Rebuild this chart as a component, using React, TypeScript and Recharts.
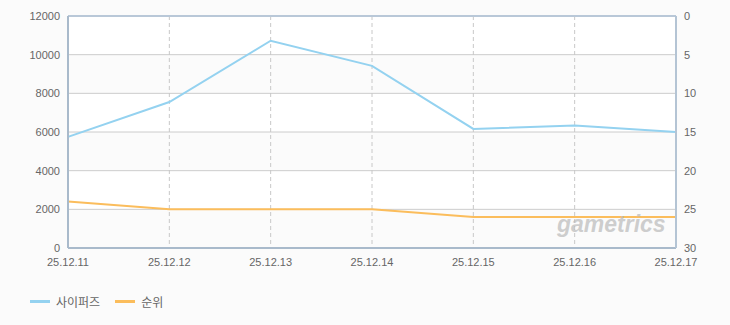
import React from 'react';
import { LineChart, Line, XAxis, YAxis, CartesianGrid, ReferenceLine } from 'recharts';

const categories = ['25.12.11', '25.12.12', '25.12.13', '25.12.14', '25.12.15', '25.12.16', '25.12.17'];
const playValues = [5750, 7550, 10720, 9420, 6160, 6340, 6000];
const rankValues = [24, 25, 25, 25, 26, 26, 26];
const leftTicks = [0, 2000, 4000, 6000, 8000, 10000, 12000];
const rightTicks = [0, 5, 10, 15, 20, 25, 30];
const seriesNames = ['사이퍼즈', '순위'];
const seriesColors = ['#94d2f0', '#fbbd5c'];

const data = categories.map((c, i) => ({ name: c, play: playValues[i], rank: rankValues[i] }));

const font = '"Liberation Sans", "Noto Sans CJK KR", sans-serif';
const tickStyle = { fontSize: 11, fill: '#666', fontFamily: font };

if (typeof document !== 'undefined') {
  document.body.style.margin = '0';
  document.body.style.background = '#fbfbfb';
}

export default function App() {
  return (
    <div style={{ width: 730, height: 325, background: '#fbfbfb', position: 'relative', fontFamily: font }}>
      <LineChart width={730} height={325} data={data} margin={{ top: 16, right: 9, left: 8, bottom: 47 }}>
        <CartesianGrid
          yAxisId="left"
          stroke="#cccccc"
          vertical={false}
          horizontalFill={['#ffffff', '#fbfbfb']}
        />
        <CartesianGrid yAxisId="left" stroke="#c8c8c8" strokeDasharray="4 3" horizontal={false} />
        <XAxis
          dataKey="name"
          interval={0}
          tick={tickStyle}
          tickLine={false}
          axisLine={{ stroke: '#a9bacb', strokeWidth: 2 }}
          tickMargin={4}
          height={30}
          padding={{ left: 0, right: 0 }}
        />
        <YAxis
          yAxisId="left"
          orientation="left"
          domain={[0, 12000]}
          ticks={leftTicks}
          tick={tickStyle}
          tickLine={false}
          axisLine={{ stroke: '#a9bacb', strokeWidth: 2 }}
          width={60}
          tickMargin={2}
        />
        <YAxis
          yAxisId="right"
          orientation="right"
          domain={[0, 30]}
          reversed
          ticks={rightTicks}
          tick={tickStyle}
          tickLine={false}
          axisLine={{ stroke: '#b4c4d4', strokeWidth: 2 }}
          width={45}
          tickMargin={2}
        />
        <ReferenceLine yAxisId="left" y={12000} stroke="#b9c8d8" strokeWidth={2} />
        <Line
          yAxisId="left"
          type="linear"
          dataKey="play"
          name={seriesNames[0]}
          stroke={seriesColors[0]}
          strokeWidth={2}
          dot={false}
          isAnimationActive={false}
        />
        <Line
          yAxisId="right"
          type="linear"
          dataKey="rank"
          name={seriesNames[1]}
          stroke={seriesColors[1]}
          strokeWidth={2}
          dot={false}
          isAnimationActive={false}
        />
      </LineChart>
      <div
        style={{
          position: 'absolute',
          left: 557,
          top: 210,
          fontSize: 23,
          lineHeight: '28px',
          fontStyle: 'italic',
          fontWeight: 'bold',
          color: 'rgba(185,185,185,0.7)',
          fontFamily: '"Liberation Sans", sans-serif',
          letterSpacing: 0,
          pointerEvents: 'none',
        }}
      >
        gametrics
      </div>
      <div style={{ position: 'absolute', left: 30, top: 293, display: 'flex', alignItems: 'center', fontSize: 12, color: '#666', fontFamily: '"Noto Sans CJK KR", sans-serif' }}>
        {seriesNames.map((n, i) => (
          <div key={n} style={{ display: 'flex', alignItems: 'center', marginRight: 15 }}>
            <div style={{ width: 20, height: 3, background: seriesColors[i], marginRight: 6 }} />
            <span>{n}</span>
          </div>
        ))}
      </div>
    </div>
  );
}
